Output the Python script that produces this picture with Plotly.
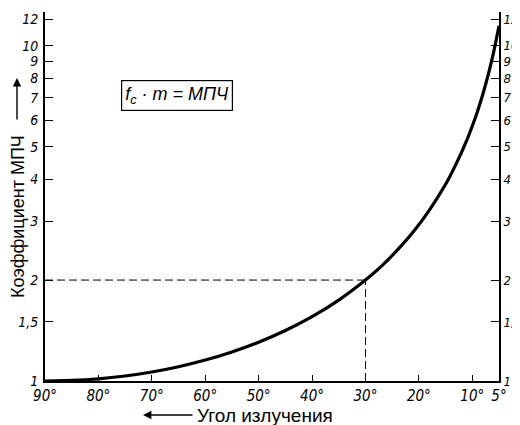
import plotly.graph_objects as go

# Data
angles = [90, 85, 80, 75, 70, 65, 60, 55, 50, 45, 40, 35, 30, 27, 24, 21, 18, 15, 13, 11, 10, 9, 8, 7, 6, 5.5, 5]
muf_factor = [1.0, 1.004, 1.015, 1.035, 1.064, 1.103, 1.155, 1.221, 1.305, 1.414, 1.556, 1.743, 2.0,
              2.20, 2.46, 2.79, 3.24, 3.86, 4.45, 5.24, 5.76, 6.39, 7.19, 8.21, 9.57, 10.45, 11.47]

ref_angle = 30
ref_value = 2

x_tick_vals = [90, 80, 70, 60, 50, 40, 30, 20, 10, 5]
x_tick_text = ["90°", "80°", "70°", "60°", "50°", "40°", "30°", "20°", "10°", "5°"]
y_tick_vals = [1, 1.5, 2, 3, 4, 5, 6, 7, 8, 9, 10, 12]
y_tick_text = ["1", "1,5", "2", "3", "4", "5", "6", "7", "8", "9", "10", "12"]

x_tick_font = dict(family="DejaVu Sans Condensed, Liberation Sans, Arial", size=15, color="black")
y_tick_font = dict(family="DejaVu Sans Condensed, Liberation Sans, Arial", size=14, color="black")
y2_tick_font = dict(family="DejaVu Sans Condensed, Liberation Sans, Arial", size=13, color="black")
title_font = dict(family="Liberation Sans, Arial", size=18, color="black")

italic = lambda labels: ["<i>" + t + "</i>" for t in labels]

fig = go.Figure()

# dashed reference lines
fig.add_trace(go.Scatter(x=[angles[0], ref_angle], y=[ref_value, ref_value], mode="lines",
                         line=dict(color="black", width=1, dash="8px,4px"), hoverinfo="skip", showlegend=False))
fig.add_trace(go.Scatter(x=[ref_angle, ref_angle], y=[muf_factor[0], ref_value], mode="lines",
                         line=dict(color="black", width=1, dash="8px,4px"), hoverinfo="skip", showlegend=False))

# curve
fig.add_trace(go.Scatter(x=angles, y=muf_factor, mode="lines",
                         line=dict(color="black", width=3.2, shape="spline", smoothing=0.6),
                         showlegend=False))
# invisible trace for the right axis
fig.add_trace(go.Scatter(x=angles, y=muf_factor, yaxis="y2", mode="lines",
                         line=dict(color="rgba(0,0,0,0)", width=0), hoverinfo="skip", showlegend=False))

yrange = [0, 1.1004]

# page body adds an 8px offset, so the figure is 8px smaller than the window
fig.update_layout(
    width=512, height=417,
    margin=dict(l=37, r=21, t=4, b=44),
    paper_bgcolor="white", plot_bgcolor="white",
    xaxis=dict(range=[90, 5], tickvals=x_tick_vals, ticktext=italic(x_tick_text), ticks="inside", ticklen=6,
               tickwidth=1.2, tickcolor="black", showline=True, linecolor="black", linewidth=2,
               showgrid=False, zeroline=False, tickfont=x_tick_font, ticklabelstandoff=0, automargin=False),
    yaxis=dict(type="log", range=yrange, tickvals=y_tick_vals, ticktext=italic(y_tick_text), ticks="inside",
               ticklen=8, tickwidth=1.2, tickcolor="black", showline=True, linecolor="black", linewidth=2,
               showgrid=False, zeroline=False, tickfont=y_tick_font, ticklabelstandoff=2, automargin=False),
    yaxis2=dict(type="log", range=yrange, tickvals=y_tick_vals, ticktext=italic(y_tick_text), ticks="inside",
                ticklen=8, tickwidth=1.2, tickcolor="black", showline=True, linecolor="black", linewidth=2,
                showgrid=False, zeroline=False, tickfont=y2_tick_font, overlaying="y", side="right",
                anchor="x", ticklabelstandoff=0, automargin=False),
)

# formula box
fig.add_annotation(x=(177 - 45) / 454, y=(381 - 95) / 369, xref="paper", yref="paper",
                   xanchor="center", yanchor="middle",
                   text="<i>f<sub>c</sub> · m = МПЧ</i>", showarrow=False,
                   font=dict(family="Liberation Sans, Arial", size=18, color="black"),
                   bordercolor="black", borderwidth=1.2, borderpad=3, bgcolor="white")

# y-axis title with arrow
fig.add_annotation(x=(18 - 45) / 454, y=(381 - 217) / 369, xref="paper", yref="paper",
                   xanchor="center", yanchor="middle",
                   text="Коэффициент МПЧ", textangle=-90, showarrow=False, font=title_font)
fig.add_annotation(x=(17 - 45) / 454, y=(381 - 78) / 369, ax=0, ay=43,
                   xref="paper", yref="paper", axref="pixel", ayref="pixel",
                   text="", showarrow=True, arrowhead=2, arrowsize=1.2, arrowwidth=1.4, arrowcolor="black")

# x-axis title with arrow
fig.add_annotation(x=(265 - 45) / 454, y=-(415 - 381) / 369, xref="paper", yref="paper",
                   xanchor="center", yanchor="middle",
                   text="Угол излучения", showarrow=False, font=dict(title_font, size=19))
fig.add_annotation(x=(143 - 45) / 454, y=-(415 - 381) / 369, ax=51, ay=0,
                   xref="paper", yref="paper", axref="pixel", ayref="pixel",
                   text="", showarrow=True, arrowhead=2, arrowsize=1.2, arrowwidth=1.4, arrowcolor="black")

fig.write_html("out.html")
